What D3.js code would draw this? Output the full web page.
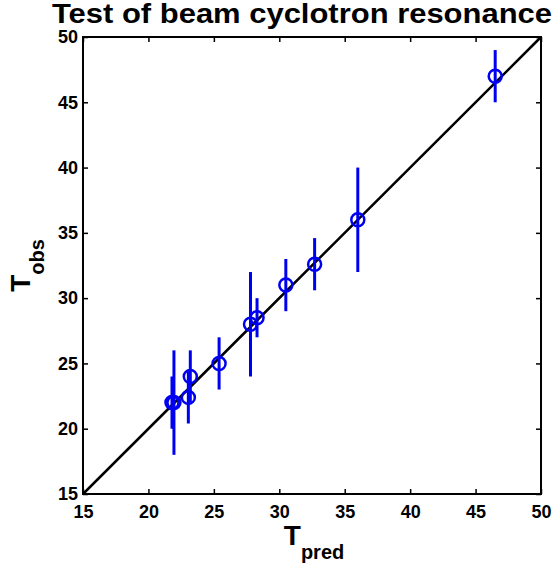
<!DOCTYPE html>
<html>
<head>
<meta charset="utf-8">
<script src="https://cdn.jsdelivr.net/npm/d3@7"></script>
<style>
  body { margin: 0; background: #fff; }
  text { font-family: "Liberation Sans", Arial, Helvetica, sans-serif; font-weight: bold; }
</style>
</head>
<body>
<div id="chart"></div>
<script>
// predicted vs observed temperatures, with error bars
const tPred = [21.8, 21.95, 23.05, 23.2, 25.4, 27.8, 28.3, 30.5, 32.7, 36.0, 46.5];
const tObs  = [22.0, 22.0, 22.4, 24.0, 25.0, 28.0, 28.5, 31.0, 32.6, 36.0, 47.0];
const tErr  = [2, 4, 2, 2, 2, 4, 1.5, 2, 2, 4, 2];
const ticks = [15, 20, 25, 30, 35, 40, 45, 50];
const lims = [15, 50];

const data = tPred.map((p, i) => ({ pred: p, obs: tObs[i], err: tErr[i] }));

const W = 556, H = 564;
const margin = { top: 37, right: 15, bottom: 70, left: 83 };
const width = W - margin.left - margin.right;
const height = H - margin.top - margin.bottom;

const svg = d3.select("#chart").append("svg")
    .attr("width", W)
    .attr("height", H);

const g = svg.append("g")
    .attr("transform", `translate(${margin.left},${margin.top})`);

const x = d3.scaleLinear().domain(lims).range([0, width]);
const y = d3.scaleLinear().domain(lims).range([height, 0]);

// axes, ticks pointing inward on all four sides
const tickStyle = sel => {
    sel.select(".domain").remove();
    sel.selectAll(".tick line").attr("stroke", "#000").attr("stroke-width", 1.5);
    sel.selectAll(".tick text").attr("fill", "#000").style("font-size", "18px");
};

g.append("g")
    .attr("transform", `translate(0,${height})`)
    .call(d3.axisBottom(x).tickValues(ticks).tickSize(-5).tickPadding(11))
    .call(tickStyle);

g.append("g")
    .call(d3.axisLeft(y).tickValues(ticks).tickSize(-5).tickPadding(5))
    .call(tickStyle);

g.append("g")
    .call(d3.axisTop(x).tickValues(ticks).tickSize(-5).tickFormat(""))
    .call(tickStyle);

g.append("g")
    .attr("transform", `translate(${width},0)`)
    .call(d3.axisRight(y).tickValues(ticks).tickSize(-5).tickFormat(""))
    .call(tickStyle);

// y = x reference line
g.append("line")
    .attr("x1", x(lims[0])).attr("y1", y(lims[0]))
    .attr("x2", x(lims[1])).attr("y2", y(lims[1]))
    .attr("stroke", "#000")
    .attr("stroke-width", 2.5);

// error bars
g.selectAll(".ebar")
    .data(data)
    .enter()
    .append("line")
    .attr("class", "ebar")
    .attr("x1", d => x(d.pred)).attr("x2", d => x(d.pred))
    .attr("y1", d => y(d.obs - d.err)).attr("y2", d => y(d.obs + d.err))
    .attr("stroke", "#0000f0")
    .attr("stroke-width", 3);

// markers
g.selectAll(".pt")
    .data(data)
    .enter()
    .append("circle")
    .attr("class", "pt")
    .attr("cx", d => x(d.pred))
    .attr("cy", d => y(d.obs))
    .attr("r", 6.5)
    .attr("fill", "none")
    .attr("stroke", "#0000f0")
    .attr("stroke-width", 2.5);

// frame
g.append("rect")
    .attr("width", width)
    .attr("height", height)
    .attr("fill", "none")
    .attr("stroke", "#000")
    .attr("stroke-width", 2);

// title
svg.append("text")
    .attr("x", 302)
    .attr("y", 23)
    .attr("text-anchor", "middle")
    .attr("textLength", 500)
    .attr("lengthAdjust", "spacingAndGlyphs")
    .style("font-size", "27px")
    .text("Test of beam cyclotron resonance");

// x label T_pred
const xl = svg.append("text")
    .attr("x", margin.left + width / 2 + 2)
    .attr("y", 545)
    .attr("text-anchor", "middle");
xl.append("tspan").style("font-size", "28px").text("T");
xl.append("tspan").attr("dy", 14).style("font-size", "20px").text("pred");

// y label T_obs
const yl = svg.append("text")
    .attr("transform", `translate(30,${margin.top + height / 2}) rotate(-90)`)
    .attr("text-anchor", "middle");
yl.append("tspan").style("font-size", "28px").text("T");
yl.append("tspan").attr("dy", 14).style("font-size", "20px").text("obs");
</script>
</body>
</html>
